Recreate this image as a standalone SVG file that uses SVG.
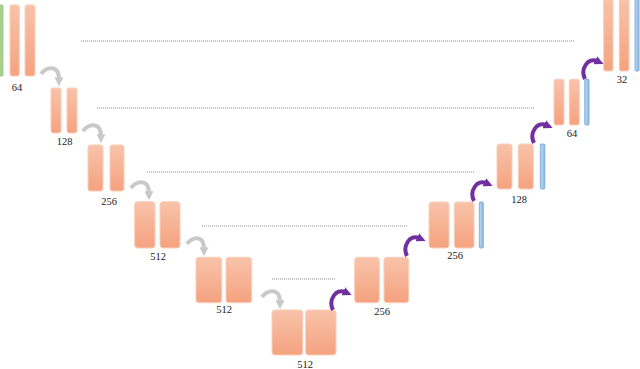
<svg xmlns="http://www.w3.org/2000/svg" width="640" height="369" viewBox="0 0 640 369">
<defs>
<linearGradient id="og" x1="0" y1="0" x2="0" y2="1">
<stop offset="0" stop-color="#F8C3AA"/>
<stop offset="1" stop-color="#F5A27F"/>
</linearGradient>
<linearGradient id="bg" x1="0" y1="0" x2="1" y2="0">
<stop offset="0" stop-color="#BDD7EE"/>
<stop offset="1" stop-color="#8FB8E2"/>
</linearGradient>
<marker id="ahG" viewBox="0 0 10 10" refX="2" refY="5" markerWidth="9" markerHeight="9" markerUnits="userSpaceOnUse" orient="auto">
<path d="M0,0 L10,5 L0,10 Z" fill="#C9C9C9"/>
</marker>
<marker id="ahP" viewBox="0 0 10 10" refX="2" refY="5" markerWidth="9" markerHeight="9" markerUnits="userSpaceOnUse" orient="auto">
<path d="M0,0 L10,5 L0,10 Z" fill="#7030A0"/>
</marker>
</defs>
<style>
.o{fill:url(#og);stroke:#F9CDB7;stroke-width:1}
.b{fill:url(#bg);stroke:#6FA3D8;stroke-width:0.8}
.g{fill:#A9D18E;stroke:#93C47D;stroke-width:0.8}
.lbl{font-family:"Liberation Serif","Times New Roman",serif;font-size:10.5px;fill:#222;text-anchor:middle}
.dot{stroke:#8A8A8A;stroke-width:1;stroke-dasharray:1 1;fill:none}
.ga{fill:none;stroke:#C9C9C9;stroke-width:4;marker-end:url(#ahG)}
.pa{fill:none;stroke:#7030A0;stroke-width:4;marker-end:url(#ahP)}
</style>
<rect width="640" height="369" fill="#FFFFFF"/>

<g id="skip-lines">
<line class="dot" x1="81" y1="41" x2="574" y2="41"/>
<line class="dot" x1="97" y1="108" x2="534" y2="108"/>
<line class="dot" x1="147" y1="172" x2="474" y2="172"/>
<line class="dot" x1="202" y1="226" x2="408" y2="226"/>
<line class="dot" x1="272" y1="279" x2="336" y2="279"/>
</g>

<g id="enc1">
<rect class="g" x="-3" y="5" width="6" height="71" rx="1"/>
<rect class="o" x="10" y="5" width="9.3" height="71" rx="2"/>
<rect class="o" x="25" y="5" width="10" height="71" rx="2"/>
<text class="lbl" x="17" y="91">64</text>
</g>
<g id="enc2">
<rect class="o" x="51" y="88" width="10" height="45" rx="2"/>
<rect class="o" x="67" y="88" width="10" height="45" rx="2"/>
<text class="lbl" x="64.5" y="145">128</text>
</g>
<g id="enc3">
<rect class="o" x="88" y="145" width="15" height="46" rx="2.5"/>
<rect class="o" x="110" y="145" width="14" height="46" rx="2.5"/>
<text class="lbl" x="109" y="205">256</text>
</g>
<g id="enc4">
<rect class="o" x="134.7" y="201.7" width="20.3" height="46.3" rx="3"/>
<rect class="o" x="160" y="201.7" width="20" height="46.3" rx="3"/>
<text class="lbl" x="158" y="260">512</text>
</g>
<g id="enc5">
<rect class="o" x="196" y="257.3" width="25.7" height="45.4" rx="3"/>
<rect class="o" x="226" y="257.3" width="25.7" height="45.4" rx="3"/>
<text class="lbl" x="224" y="313">512</text>
</g>
<g id="bottleneck">
<rect class="o" x="272" y="310" width="30.7" height="45" rx="3"/>
<rect class="o" x="305.7" y="310" width="30.3" height="45" rx="3"/>
<text class="lbl" x="305" y="368">512</text>
</g>
<g id="dec5">
<rect class="o" x="354.7" y="257.3" width="24.6" height="45.4" rx="3"/>
<rect class="o" x="384" y="257.3" width="24.7" height="45.4" rx="3"/>
<text class="lbl" x="382" y="315">256</text>
</g>
<g id="dec4">
<rect class="o" x="429" y="202" width="20" height="46" rx="3"/>
<rect class="o" x="454.3" y="202" width="19.7" height="46" rx="3"/>
<rect class="b" x="479.3" y="202" width="4" height="46" rx="1"/>
<text class="lbl" x="455" y="259">256</text>
</g>
<g id="dec3">
<rect class="o" x="497" y="144" width="15" height="45" rx="2.5"/>
<rect class="o" x="518.3" y="144" width="15" height="45" rx="2.5"/>
<rect class="b" x="540.3" y="144" width="4.5" height="45" rx="1"/>
<text class="lbl" x="519" y="203">128</text>
</g>
<g id="dec2">
<rect class="o" x="554" y="79.3" width="10" height="45.7" rx="2"/>
<rect class="o" x="569.3" y="79.3" width="10" height="45.7" rx="2"/>
<rect class="b" x="584.7" y="79.3" width="4.3" height="45.7" rx="1"/>
<text class="lbl" x="572" y="137">64</text>
</g>
<g id="dec1">
<rect class="o" x="603.7" y="-3" width="9.3" height="74" rx="2"/>
<rect class="o" x="619.3" y="-3" width="9.7" height="74" rx="2"/>
<rect class="b" x="635" y="-3" width="4" height="74" rx="1"/>
<text class="lbl" x="622" y="82.5">32</text>
</g>

<g id="connectors">
<path class="ga" d="M41,74 C47,66 59,65 59,79"/>
<path class="ga" d="M83,131 C89,123 101,122 101,136"/>
<path class="ga" d="M131,188 C137,180 149,179 149,193"/>
<path class="ga" d="M187,244 C193,236 204,235 204,249"/>
<path class="ga" d="M262,297 C268,289 280,288 280,302"/>
<path class="pa" d="M333,310 C328,300 336,288 345,292"/>
<path class="pa" d="M407,256 C402,246 410,234 419,238"/>
<path class="pa" d="M474,201 C469,191 477,179 486,183"/>
<path class="pa" d="M534,143 C529,133 537,121 546,125"/>
<path class="pa" d="M585,79 C580,69 588,57 597,61"/>
</g>
</svg>
